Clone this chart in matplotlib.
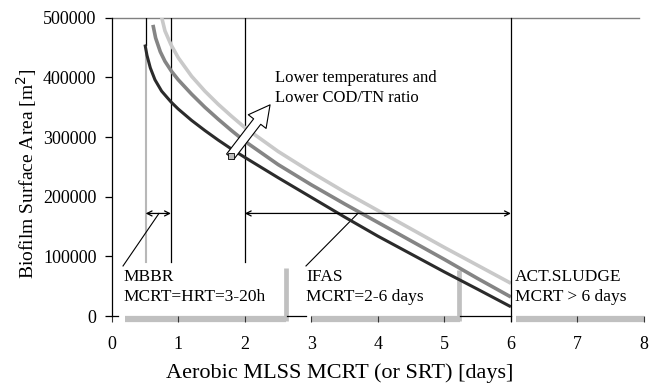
import matplotlib
matplotlib.use("Agg")
import matplotlib.pyplot as plt

# ---------------------------------------------------------------------------
# Data (x in days, y in m2)
# ---------------------------------------------------------------------------
x_dark = [0.50, 0.53, 0.58, 0.65, 0.75, 0.89, 1.0, 1.2, 1.4, 1.6, 1.8, 2.0, 2.5, 3.0, 3.5, 4.0, 4.5, 5.0, 5.5, 6.0]
y_dark = [455000, 437000, 416000, 396000, 377000, 359000, 347000, 328000, 311000, 295000, 280000, 266000,
          232000, 199000, 166000, 134000, 104000, 74000, 45000, 15600]

x_mid = [0.62, 0.66, 0.73, 0.8, 0.9, 1.0, 1.2, 1.4, 1.6, 1.8, 2.0, 2.5, 3.0, 3.5, 4.0, 4.5, 5.0, 5.5, 6.0]
y_mid = [488000, 466000, 443000, 427000, 410000, 396000, 372000, 350000, 330000, 311000, 293000, 254000,
         220000, 188000, 157000, 126000, 95000, 63000, 32000]

x_light = [0.75, 0.8, 0.89, 1.0, 1.2, 1.4, 1.6, 1.8, 2.0, 2.5, 3.0, 3.5, 4.0, 4.5, 5.0, 5.5, 6.0]
y_light = [501000, 478000, 455000, 433000, 402000, 377000, 355000, 335000, 316000, 276000, 241000, 208000,
           177000, 146000, 115000, 85000, 55000]

x_ticks = [0, 1, 2, 3, 4, 5, 6, 7, 8]
y_ticks = [0, 100000, 200000, 300000, 400000, 500000]

# process regions along the x-axis: (start, end, label)
regions = [(0.2, 2.62, "MBBR\nMCRT=HRT=3-20h"),
           (3.0, 5.24, "IFAS\nMCRT=2-6 days"),
           (6.08, 8.0, "ACT.SLUDGE\nMCRT > 6 days")]
label_x = [0.17, 2.92, 6.06]
range_arrows = [(0.51, 0.89), (2.0, 6.0)]
arrow_y = 172000

plt.rcParams["font.family"] = ["Liberation Serif", "DejaVu Serif"]

fig = plt.figure(figsize=(6.51, 3.85), dpi=100)
ax = fig.add_axes([0.1716, 0.179, 0.8176, 0.775])
ax.set_xlim(0, 8)
ax.set_ylim(0, 500000)

# curves
ax.plot(x_light, y_light, color="#c9c9c9", lw=2.6, solid_capstyle="butt", zorder=3)
ax.plot(x_mid, y_mid, color="#858585", lw=2.6, solid_capstyle="butt", zorder=3)
ax.plot(x_dark, y_dark, color="#2b2b2b", lw=2.2, solid_capstyle="butt", zorder=3)

# top border line and verticals
ax.plot([0, 7.92], [500000, 500000], color="#808080", lw=1.0, clip_on=False)
ax.plot([0.51, 0.51], [91000, 455000], color="#b8b8b8", lw=1.5, zorder=2)
ax.plot([0.51, 0.51], [455000, 500000], color="black", lw=0.9, zorder=2)
for xv in (0.89, 2.0):
    ax.plot([xv, xv], [91000, 500000], color="black", lw=0.9, zorder=2)
ax.plot([6.0, 6.0], [-9000, 500000], color="black", lw=0.9, zorder=4, clip_on=False)

# range arrows with leader lines
for (x0, x1) in range_arrows:
    ax.annotate("", xy=(x1, arrow_y), xytext=(x0, arrow_y),
                arrowprops=dict(arrowstyle="<->", color="black", lw=0.9,
                                shrinkA=0, shrinkB=0, mutation_scale=9), zorder=5)
ax.plot([0.17, 0.71], [84000, arrow_y], color="black", lw=0.8)
ax.plot([2.92, 3.7], [84000, arrow_y], color="black", lw=0.8)

# region bars under the axis
for (x0, x1, label), lx in zip(regions, label_x):
    ax.plot([x0, x1], [-5500, -5500], color="#c0c0c0", lw=4.5, solid_capstyle="butt",
            clip_on=False, zorder=1)
    ax.text(lx, 79000, label, fontsize=12.5, va="top", ha="left", linespacing=1.32, zorder=6)
for xv, top in ((2.62, 80000), (5.22, 77000)):
    ax.plot([xv, xv], [-9000, top], color="#c0c0c0", lw=3.4, solid_capstyle="butt",
            clip_on=False, zorder=1)
ax.plot([2.64, 2.92], [0, 0], color="black", lw=0.9, clip_on=False)
ax.plot([5.24, 6.0], [0, 0], color="black", lw=0.9, clip_on=False)
ax.plot([0, 0.1], [0, 0], color="black", lw=0.9, clip_on=False)

# hollow arrow
ax.annotate("", xy=(2.38, 354000), xytext=(1.78, 267000),
            arrowprops=dict(arrowstyle="simple,head_length=0.8,head_width=0.85,tail_width=0.34",
                            mutation_scale=19, fc="white", ec="black", lw=0.8,
                            shrinkA=0, shrinkB=0), zorder=6)
ax.plot([1.79], [268000], marker="s", ms=5, mfc="#bbbbbb", mec="black", mew=0.6, zorder=7)
ax.text(2.45, 382000, "Lower temperatures and\nLower COD/TN ratio", fontsize=12,
        va="center", ha="left", linespacing=1.3)

# axes styling
for side in ("top", "right", "bottom"):
    ax.spines[side].set_visible(False)
ax.spines["left"].set_linewidth(0.9)
ax.set_xticks(x_ticks)
ax.set_yticks(y_ticks)
ax.set_yticklabels([str(v) for v in y_ticks])
ax.tick_params(axis="x", direction="out", length=4, width=0.8, pad=10, labelsize=13,
               color="#333333")
ax.tick_params(axis="y", direction="out", length=5, width=0.9, pad=6, labelsize=13)

ax.set_ylabel("Biofilm Surface Area [m$^2$]", fontsize=14)
ax.yaxis.set_label_coords(-0.136, 0.478)
fig.text(0.522, 0.031, "Aerobic MLSS MCRT (or SRT) [days]", fontsize=16, ha="center", va="center")

fig.savefig("out.png", dpi=100)
